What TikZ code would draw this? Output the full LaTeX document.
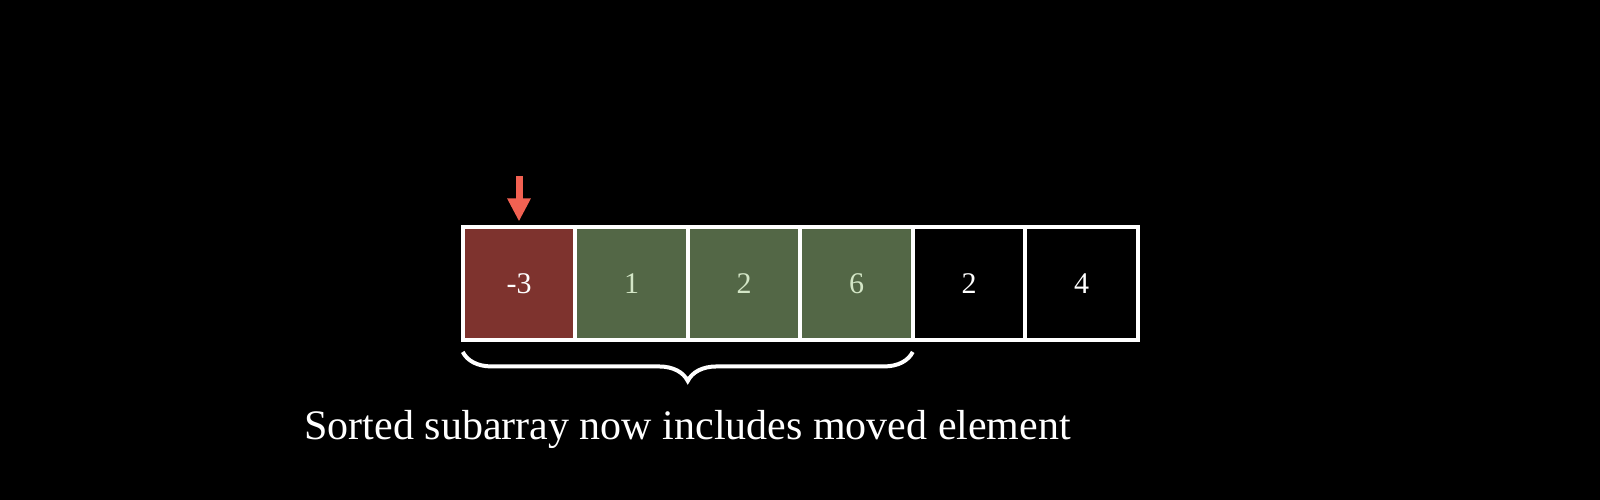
\documentclass[tikz,border=0pt]{standalone}
\usepackage{fontspec}
\setmainfont{Liberation Serif}
\usetikzlibrary{backgrounds,positioning,arrows.meta,decorations.pathreplacing}

\definecolor{movedred}{HTML}{7E332E}
\definecolor{sortedgreen}{HTML}{536746}
\definecolor{sortedtext}{HTML}{D3E6C6}
\definecolor{pointerred}{HTML}{F26152}

\begin{document}
\begin{tikzpicture}[%
      x=1pt, y=1pt,
      show background rectangle,
      inner frame sep=0pt,
      background rectangle/.style={fill=black},
      every node/.style={font={\fontsize{30}{36}\selectfont}, text=white,
                         inner sep=0pt, outer sep=0pt},
      cell/.style={draw=white, line width=4pt, minimum size=112.5pt, fill=black},
      moved/.style={cell, fill=movedred},
      sorted/.style={cell, fill=sortedgreen, text=sortedtext},
      caption/.style={font={\fontsize{42}{50}\selectfont}},
      pointer/.style={pointerred, line width=7pt,
                      -{Triangle[width=22pt,length=23pt]}},
      brace/.style={white, line width=4pt, decorate,
                    decoration={brace, mirror, amplitude=29pt}}
    ]
    \useasboundingbox (0,0) rectangle (1600,500);
    \node [moved] (A 0) at (519,216.3) {-3};
    \node [sorted, right=0pt of A 0] (A 1) {1};
    \node [sorted, right=0pt of A 1] (A 2) {2};
    \node [sorted, right=0pt of A 2] (A 3) {6};
    \node [cell, right=0pt of A 3] (A 4) {2};
    \node [cell, right=0pt of A 4] (A 5) {4};
    % pointer on the moved element
    \coordinate (pointer top) at ([yshift=51pt]A 0.north);
    \coordinate (pointer tip) at ([yshift=6pt]A 0.north);
    \draw [pointer] (pointer top) -- (pointer tip);
    % brace under the sorted part
    \coordinate (brace left) at ([yshift=-12pt]A 0.south west);
    \coordinate (brace right) at ([yshift=-12pt]A 3.south east);
    \draw [brace] (brace left) -- (brace right);
    \path ([yshift=-29pt]brace left) -- ([yshift=-29pt]brace right)
     coordinate [midway] (brace tip);
    \node [caption, below=29pt of brace tip] (caption)
     {Sorted subarray now includes moved element};
\end{tikzpicture}
\end{document}
